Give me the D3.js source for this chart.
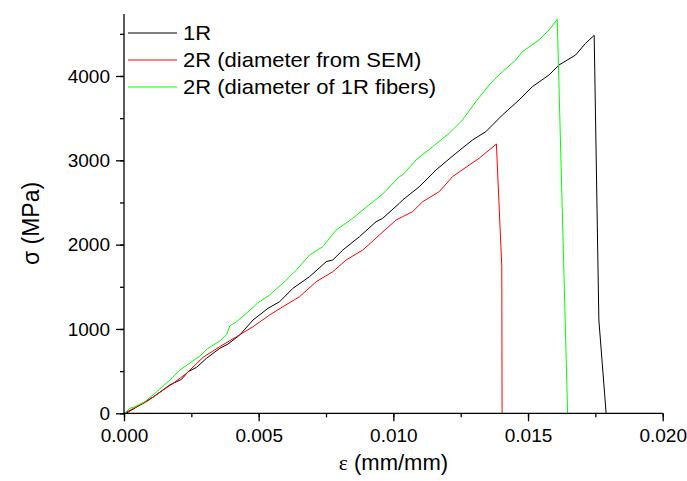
<!DOCTYPE html>
<html>
<head>
<meta charset="utf-8">
<script src="https://cdn.jsdelivr.net/npm/d3@7"></script>
<style>
html,body{margin:0;padding:0;background:#fff;}
svg{display:block;}
text{font-family:"Liberation Sans",Arial,sans-serif;fill:#000;}
</style>
</head>
<body>
<svg id="chart" width="687" height="481"></svg>
<script>
// ---- data ----
const seriesNames = ["1R", "2R (diameter from SEM)", "2R (diameter of 1R fibers)"];
const seriesColors = ["#000000", "#ff0000", "#00ff00"];

const strain1R = [0,0.0001,0.000593,0.0011,0.0017,0.002137,0.002381,0.002693,0.003063,0.003556,0.003863,0.004296,0.004789,0.005346,0.005778,0.00627,0.006889,0.007507,0.007752,0.008122,0.008741,0.009359,0.009604,0.010222,0.010344,0.010963,0.011581,0.012322,0.012937,0.013433,0.014048,0.014667,0.015159,0.015778,0.016148,0.016767,0.017137,0.017456,0.01763,0.0179];
const stress1R = [0,4,98,197,336,403,493,545,652,771,822,928,1106,1245,1323,1482,1620,1798,1818,1936,2094,2272,2312,2490,2529,2687,2885,3083,3241,3339,3537,3715,3873,4012,4130,4249,4387,4482,1106,0];

const strainSEM = [0,0.000841,0.001456,0.001826,0.002322,0.002937,0.003556,0.004174,0.004789,0.005407,0.0059,0.006519,0.007137,0.007752,0.008248,0.008863,0.009481,0.0101,0.010344,0.010715,0.011085,0.011704,0.012196,0.012815,0.013185,0.013556,0.013826,0.014026,0.014037];
const stressSEM = [0,138,276,356,474,664,790,908,1027,1166,1264,1383,1561,1679,1818,1936,2114,2292,2331,2391,2509,2628,2806,2944,3024,3122,3193,1738,0];

const strain1RFib = [0,0.000037,0.000222,0.000407,0.000778,0.001148,0.001704,0.002074,0.002444,0.002815,0.003122,0.003556,0.003804,0.003926,0.004174,0.004544,0.004974,0.005407,0.0059,0.006396,0.006889,0.007381,0.007878,0.008493,0.008989,0.009604,0.010222,0.010344,0.010841,0.011456,0.012074,0.012567,0.013063,0.013556,0.014048,0.014544,0.014789,0.015407,0.015778,0.016085,0.01647];
const stress1RFib = [0,4,59,78,138,237,395,513,596,679,771,857,928,1035,1086,1186,1311,1403,1542,1699,1877,1976,2174,2312,2443,2600,2806,2826,3004,3161,3320,3478,3695,3893,4051,4189,4288,4427,4546,4672,0];

const xTicks = [0, 0.005, 0.010, 0.015, 0.020];
const yTicks = [0, 1000, 2000, 3000, 4000];
const xTitle = "(mm/mm)";
const yTitle = "(MPa)";

// ---- layout ----
const svg = d3.select("#chart");
const mLeft = 124, mRight = 662.7, mTop = 14, mBottom = 413.3;

const x = d3.scaleLinear().domain([0, 0.020]).range([mLeft, mRight]);
const y = d3.scaleLinear().domain([0, 4735]).range([mBottom, mTop]);

const series = [
  {name: seriesNames[0], color: seriesColors[0], xs: strain1R, ys: stress1R},
  {name: seriesNames[1], color: seriesColors[1], xs: strainSEM, ys: stressSEM},
  {name: seriesNames[2], color: seriesColors[2], xs: strain1RFib, ys: stress1RFib}
];

const line = d3.line().x(d => x(d[0])).y(d => y(d[1]));

series.forEach(s => {
  const pts = s.xs.map((v, i) => [v, s.ys[i]]);
  svg.append("path")
    .attr("d", line(pts))
    .attr("fill", "none")
    .attr("stroke", s.color)
    .attr("stroke-width", 1)
    .attr("stroke-linejoin", "round");
});

// ---- axes ----
const fmtX = d3.format(".3f");
const xMinor = d3.range(0, 0.0201, 0.0025);
const yMinor = d3.range(0, 4736, 500);
const tickFont = 19;

const xAxisG = svg.append("g").attr("transform", `translate(0,${mBottom})`);
xAxisG.call(d3.axisBottom(x).tickValues(xMinor).tickSize(4).tickFormat(""))
  .call(g => g.select(".domain").remove());
xAxisG.append("g").call(d3.axisBottom(x).tickValues(xTicks).tickSize(8).tickPadding(7).tickFormat(fmtX))
  .call(g => g.select(".domain").attr("d", `M${mLeft},0H${mRight}`));
xAxisG.selectAll("line,path").attr("stroke", "#000").attr("stroke-width", 1.3);
xAxisG.selectAll("text").attr("font-size", tickFont).attr("font-family", "Liberation Sans, Arial, sans-serif").attr("fill", "#000");

const yAxisG = svg.append("g").attr("transform", `translate(${mLeft},0)`);
yAxisG.call(d3.axisLeft(y).tickValues(yMinor).tickSize(4).tickFormat(""))
  .call(g => g.select(".domain").remove());
yAxisG.append("g").call(d3.axisLeft(y).tickValues(yTicks).tickSize(8).tickPadding(6).tickFormat(d3.format("d")))
  .call(g => g.select(".domain").attr("d", `M0,${mBottom}V${mTop}`));
yAxisG.selectAll("line,path").attr("stroke", "#000").attr("stroke-width", 1.3);
yAxisG.selectAll("text").attr("font-size", tickFont).attr("font-family", "Liberation Sans, Arial, sans-serif").attr("fill", "#000");

// ---- titles ----
const xt = svg.append("text")
  .attr("x", (mLeft + mRight) / 2).attr("y", 470)
  .attr("text-anchor", "middle").attr("font-size", 22);
xt.append("tspan").attr("font-family", "Liberation Serif, Times New Roman, serif").text("ε");
xt.append("tspan").text(" " + xTitle);

const yt = svg.append("text")
  .attr("transform", `translate(38.5,223.5) rotate(-90)`)
  .attr("text-anchor", "middle").attr("font-size", 23);
yt.append("tspan").text("σ");
yt.append("tspan").text(" " + yTitle);

// ---- legend ----
const legY = [33, 60, 87];
series.forEach((s, i) => {
  svg.append("line")
    .attr("x1", 128).attr("x2", 177)
    .attr("y1", legY[i]).attr("y2", legY[i])
    .attr("stroke", s.color).attr("stroke-width", 1);
  svg.append("text")
    .attr("transform", `translate(183,${legY[i] + 6.5}) scale(1.1,1)`)
    .attr("font-size", 20)
    .text(s.name);
});
</script>
</body>
</html>
